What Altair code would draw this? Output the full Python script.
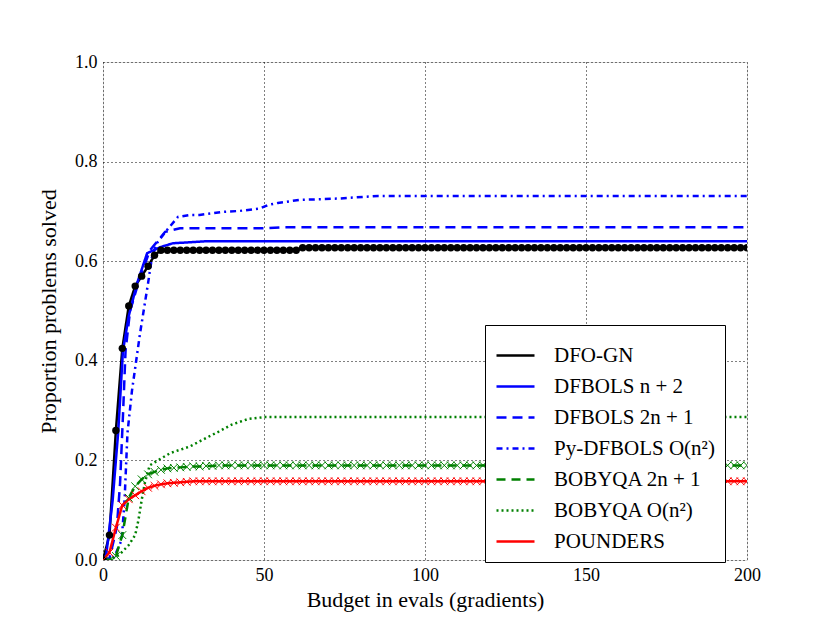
import altair as alt
import pandas as pd

# ---- data ----
SERIES = ["DFO-GN", "DFBOLS n + 2", "DFBOLS 2n + 1", "Py-DFBOLS O(n²)",
          "BOBYQA 2n + 1", "BOBYQA O(n²)", "POUNDERS"]
COLORS = ["#000000", "#0000ff", "#0000ff", "#0000ff", "#008000", "#008000", "#ff0000"]
DASHES = [[1, 0], [1, 0], [10, 6], [6, 4, 2, 4], [9, 6], [2, 3], [1, 0]]

# dense series (markers every 2 evals)
x_dense = list(range(0, 201, 2))
dfogn_y = ([0.0, 0.05, 0.26, 0.425, 0.51, 0.55, 0.57, 0.59, 0.612, 0.622]
           + [0.622] * 21 + [0.627] * 70)
bobyqa2_y = ([0.0, 0.0, 0.008, 0.05, 0.125, 0.148, 0.162, 0.172, 0.177, 0.181,
              0.184, 0.185, 0.186, 0.187, 0.188, 0.188, 0.189, 0.189]
             + [0.19] * 83)
pounders_y = ([0.0, 0.015, 0.065, 0.11, 0.122, 0.13, 0.138, 0.145, 0.149, 0.152,
               0.154, 0.155, 0.156, 0.157] + [0.158] * 87)

# sparse series
dfbols_n2_x = [0, 1, 3, 4.7, 6.2, 8, 10.6, 13.7, 17.7, 21.7, 32, 200]
dfbols_n2_y = [0, 0.01, 0.12, 0.255, 0.42, 0.49, 0.556, 0.616, 0.628, 0.636, 0.64, 0.64]

dfbols_2n_x = [0, 2, 4.3, 5.3, 6.2, 7, 8.4, 11.5, 14.6, 19.3, 23.9, 50, 55, 200]
dfbols_2n_y = [0, 0.003, 0.066, 0.154, 0.29, 0.42, 0.5, 0.568, 0.622, 0.659, 0.666, 0.666, 0.668, 0.668]

pydfbols_x = [0, 3.5, 5.8, 6.7, 7.6, 9, 11.5, 14, 15.2, 16.7, 19.9, 23.3, 27, 30, 37.3,
              42.5, 48.8, 51.3, 54.3, 61, 73.6, 85.4, 200]
pydfbols_y = [0, 0.006, 0.04, 0.12, 0.255, 0.34, 0.455, 0.556, 0.608, 0.636, 0.663, 0.689,
              0.693, 0.693, 0.699, 0.701, 0.706, 0.713, 0.717, 0.723, 0.726, 0.731, 0.731]

bobyqa_o2_x = [0, 2, 5, 8, 10, 11, 12, 13, 14.5, 17, 21, 27, 32, 36, 40, 45, 50, 200]
bobyqa_o2_y = [0, 0, 0.01, 0.03, 0.05, 0.08, 0.12, 0.155, 0.19, 0.2, 0.215, 0.228,
               0.245, 0.258, 0.272, 0.283, 0.287, 0.287]

rows = []
def add(name, xs, ys):
    for i, (a, b) in enumerate(zip(xs, ys)):
        rows.append({"series": name, "x": a, "y": b, "i": i})

add("DFO-GN", x_dense, dfogn_y)
add("DFBOLS n + 2", dfbols_n2_x, dfbols_n2_y)
add("DFBOLS 2n + 1", dfbols_2n_x, dfbols_2n_y)
add("Py-DFBOLS O(n²)", pydfbols_x, pydfbols_y)
add("BOBYQA 2n + 1", x_dense, bobyqa2_y)
add("BOBYQA O(n²)", bobyqa_o2_x, bobyqa_o2_y)
add("POUNDERS", x_dense, pounders_y)
df = pd.DataFrame(rows)

FONT = "Liberation Serif"

xenc = alt.X("x:Q", scale=alt.Scale(domain=[0, 200], nice=False),
             axis=alt.Axis(values=[0, 50, 100, 150, 200], title="Budget in evals (gradients)",
                           grid=True, gridColor="#000000", gridDash=[1, 3], gridWidth=1,
                           ticks=False, domain=False, labelFlush=False, labelFont=FONT,
                           labelFontSize=18, labelColor="#000", labelPadding=6,
                           titleFont=FONT, titleFontSize=22, titleFontWeight="normal",
                           titleColor="#000", titlePadding=5))
yenc = alt.Y("y:Q", scale=alt.Scale(domain=[0, 1], nice=False),
             axis=alt.Axis(values=[0, 0.2, 0.4, 0.6, 0.8, 1.0], format=".1f",
                           title="Proportion problems solved",
                           grid=True, gridColor="#000000", gridDash=[1, 3], gridWidth=1,
                           ticks=False, domain=False, labelFlush=False, labelFont=FONT,
                           labelFontSize=18, labelColor="#000", labelPadding=6,
                           titleFont=FONT, titleFontSize=22, titleFontWeight="normal",
                           titleColor="#000", titlePadding=14))

lines = alt.Chart(df).mark_line(strokeWidth=2.5, clip=True).encode(
    x=xenc, y=yenc,
    color=alt.Color("series:N", scale=alt.Scale(domain=SERIES, range=COLORS),
                    legend=alt.Legend(
                        title=None, orient="none", legendX=382, legendY=263,
                        fillColor="#ffffff", strokeColor="#000000",
                        padding=10, symbolType="stroke", symbolSize=1444,
                        symbolStrokeWidth=2.5, rowPadding=-11, labelFont=FONT,
                        labelFontSize=21, labelColor="#000", labelOffset=18,
                        labelLimit=300)),
    strokeDash=alt.StrokeDash("series:N", scale=alt.Scale(domain=SERIES, range=DASHES)),
    order="i:Q",
)

circles = alt.Chart(df).transform_filter(alt.datum.series == "DFO-GN").mark_point(
    filled=True, size=55, opacity=1, clip=True).encode(
    x="x:Q", y="y:Q", color=alt.value("#000000"))

XPATH = "M-1,-1L1,1M-1,1L1,-1"
green_x = alt.Chart(df).transform_filter(alt.datum.series == "BOBYQA 2n + 1").mark_point(
    shape=XPATH, filled=False, size=60, strokeWidth=1, opacity=1, clip=True).encode(
    x="x:Q", y="y:Q", color=alt.value("#008000"))
red_x = alt.Chart(df).transform_filter(alt.datum.series == "POUNDERS").mark_point(
    shape=XPATH, filled=False, size=60, strokeWidth=1, opacity=1, clip=True).encode(
    x="x:Q", y="y:Q", color=alt.value("#ff0000"))

chart = alt.layer(lines, circles, green_x, red_x).properties(
    width=644, height=498,
    autosize=alt.AutoSizeParams(type="none"),
    padding={"left": 95, "top": 54, "right": 60, "bottom": 60},
).configure_view(stroke="#000000", strokeWidth=1.5).configure(background="#ffffff")

chart.save("out.html", embed_options={"renderer": "svg", "actions": False})
